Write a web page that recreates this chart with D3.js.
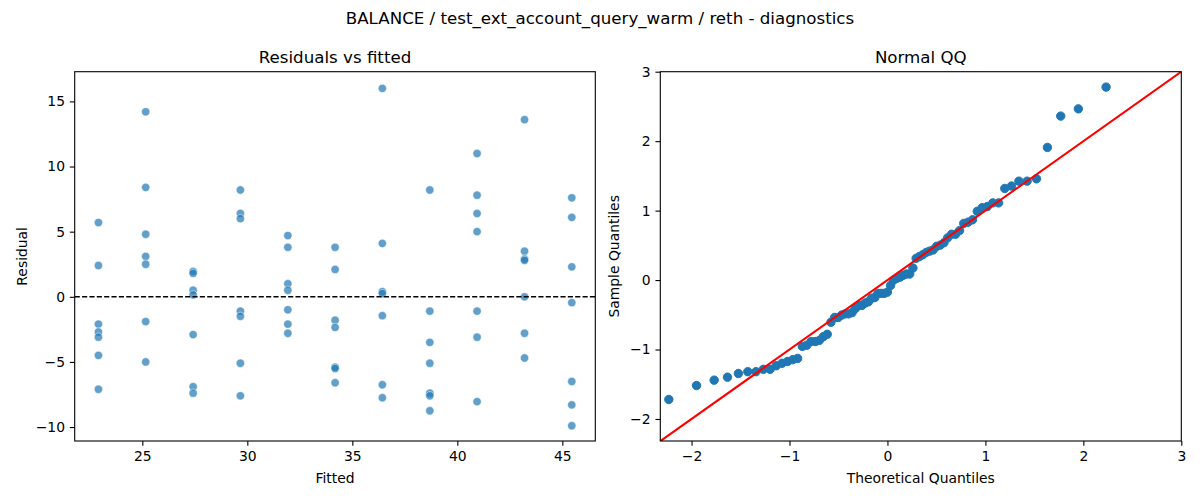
<!DOCTYPE html>
<html>
<head>
<meta charset="utf-8">
<script src="https://d3js.org/d3.v7.min.js"></script>
<style>
  body { margin: 0; background: #fff; }
  svg text { font-family: "DejaVu Sans", sans-serif; fill: #000; }
</style>
</head>
<body>
<div id="chart"></div>
<script>
// fitted value of each group and the residuals seen at that fitted value
var fitted = [22.91, 25.16, 27.42, 29.67, 31.93, 34.18, 36.43, 38.69, 40.94, 43.20, 45.45];
var residuals = [
  [5.7, 2.4, -2.1, -2.7, -3.1, -4.5, -7.1],
  [14.2, 8.4, 4.8, 3.1, 2.5, -1.9, -5.0],
  [1.95, 1.8, 0.5, 0.15, -2.9, -6.9, -7.4],
  [8.2, 6.4, 6.0, -1.1, -1.5, -5.1, -7.6],
  [4.7, 3.8, 1.0, 0.5, -1.0, -2.1, -2.8],
  [3.8, 2.1, -1.8, -2.35, -5.4, -5.5, -6.6],
  [16.0, 4.1, 0.4, 0.25, -1.45, -6.75, -7.75],
  [8.2, -1.1, -3.5, -5.1, -7.4, -7.6, -8.75],
  [11.0, 7.8, 6.4, 5.0, -1.1, -3.1, -8.05],
  [13.6, 3.5, 2.9, 2.8, 0.0, -2.8, -4.7],
  [7.6, 6.1, 2.3, -0.45, -6.5, -8.3, -9.9]
];
var fittedTicks = [25, 30, 35, 40, 45];
var residualTicks = [-10, -5, 0, 5, 10, 15];

// normal QQ points
var theoretical = [
  -2.232, -1.949, -1.769, -1.633, -1.522, -1.426, -1.342, -1.267, -1.198, -1.135,
  -1.076, -1.020, -0.967, -0.917, -0.869, -0.823, -0.779, -0.736, -0.695, -0.655,
  -0.615, -0.577, -0.539, -0.502, -0.466, -0.431, -0.396, -0.361, -0.327, -0.293,
  -0.260, -0.227, -0.194, -0.161, -0.129, -0.097, -0.064, -0.032, 0.000,
  0.032, 0.064, 0.097, 0.129, 0.161, 0.194, 0.227, 0.260, 0.293, 0.327,
  0.361, 0.396, 0.431, 0.466, 0.502, 0.539, 0.577, 0.615, 0.655, 0.695,
  0.736, 0.779, 0.823, 0.869, 0.917, 0.967, 1.020, 1.076, 1.135, 1.198,
  1.267, 1.342, 1.426, 1.522, 1.633, 1.769, 1.949, 2.232
];
var sample = [
  -1.719, -1.519, -1.441, -1.398, -1.345, -1.319, -1.319, -1.285, -1.285, -1.233,
  -1.198, -1.172, -1.146, -1.128, -0.955, -0.938, -0.885, -0.885, -0.868, -0.816,
  -0.781, -0.608, -0.538, -0.538, -0.503, -0.486, -0.486, -0.469, -0.408, -0.365,
  -0.365, -0.330, -0.313, -0.260, -0.252, -0.191, -0.191, -0.191, -0.174,
  -0.078, 0.000, 0.026, 0.043, 0.069, 0.087, 0.087, 0.174, 0.313, 0.339,
  0.365, 0.399, 0.417, 0.434, 0.486, 0.503, 0.538, 0.608, 0.660, 0.660,
  0.712, 0.816, 0.833, 0.868, 0.990, 1.042, 1.059, 1.111, 1.111, 1.319,
  1.354, 1.424, 1.424, 1.458, 1.910, 2.361, 2.465, 2.778
];
var qqTicks = [-2, -1, 0, 1, 2, 3];

var W = 1200, H = 500;
var plotTop = 71.7, plotBottom = 441;
var left1 = 74.7, right1 = 595.3;
var left2 = 660.3, right2 = 1181.3;
var tickFont = 13.9, titleFont = 16.67;
var C0 = "#1f77b4";

var svg = d3.select("#chart").append("svg")
  .attr("width", W)
  .attr("height", H);

// suptitle
svg.append("text")
  .attr("x", W / 2)
  .attr("y", 24)
  .attr("text-anchor", "middle")
  .style("font-size", titleFont + "px")
  .text("BALANCE / test_ext_account_query_warm / reth - diagnostics");

function styleAxis(g) {
  g.select(".domain").remove();
  g.selectAll(".tick line").attr("stroke", "#000").attr("stroke-width", 1.1);
  g.selectAll(".tick text")
    .attr("font-family", "DejaVu Sans, sans-serif")
    .style("font-size", tickFont + "px")
    .attr("fill", "#000");
}

function panel(x0, x1, title, xlabel, ylabel, ylabelX) {
  var cx = (x0 + x1) / 2;
  svg.append("text")
    .attr("x", cx).attr("y", plotTop - 8.3)
    .attr("text-anchor", "middle")
    .style("font-size", titleFont + "px")
    .text(title);
  svg.append("text")
    .attr("x", cx).attr("y", 483)
    .attr("text-anchor", "middle")
    .style("font-size", tickFont + "px")
    .text(xlabel);
  svg.append("text")
    .attr("transform", "translate(" + ylabelX + "," + ((plotTop + plotBottom) / 2) + ") rotate(-90)")
    .attr("text-anchor", "middle")
    .style("font-size", tickFont + "px")
    .text(ylabel);
}

var fmt = d3.format("d");

// ---------- Residuals vs fitted ----------
var x1 = d3.scaleLinear().domain([21.78, 46.57]).range([left1, right1]);
var y1 = d3.scaleLinear().domain([-11.07, 17.28]).range([plotBottom, plotTop]);

var points = [];
fitted.forEach(function(f, i) {
  residuals[i].forEach(function(r) { points.push({fitted: f, resid: r}); });
});

svg.append("g")
  .attr("transform", "translate(0," + plotBottom + ")")
  .call(d3.axisBottom(x1).tickValues(fittedTicks).tickSize(4.86).tickPadding(4.86).tickFormat(fmt))
  .call(styleAxis);
svg.append("g")
  .attr("transform", "translate(" + left1 + ",0)")
  .call(d3.axisLeft(y1).tickValues(residualTicks).tickSize(4.86).tickPadding(4.86).tickFormat(fmt))
  .call(styleAxis);

svg.append("g").selectAll("circle")
  .data(points)
  .enter().append("circle")
    .attr("cx", function(d) { return x1(d.fitted); })
    .attr("cy", function(d) { return y1(d.resid); })
    .attr("r", 4.17)
    .attr("fill", C0)
    .attr("fill-opacity", 0.7)
    .attr("stroke", "#fff")
    .attr("stroke-opacity", 0.7)
    .attr("stroke-width", 0.7);

svg.append("line")
  .attr("x1", left1).attr("x2", right1)
  .attr("y1", y1(0)).attr("y2", y1(0))
  .attr("stroke", "#000")
  .attr("stroke-width", 1.39)
  .attr("stroke-dasharray", "5.14,2.22");

svg.append("rect")
  .attr("x", left1).attr("y", plotTop)
  .attr("width", right1 - left1).attr("height", plotBottom - plotTop)
  .attr("fill", "none").attr("stroke", "#000").attr("stroke-width", 1.1);

panel(left1, right1, "Residuals vs fitted", "Fitted", "Residual", 27);

// ---------- Normal QQ ----------
var x2 = d3.scaleLinear().domain([-2.319, 3]).range([left2, right2]);
var y2 = d3.scaleLinear().domain([-2.317, 3]).range([plotBottom, plotTop]);

svg.append("defs").append("clipPath").attr("id", "qqclip")
  .append("rect")
    .attr("x", left2).attr("y", plotTop)
    .attr("width", right2 - left2).attr("height", plotBottom - plotTop);

svg.append("g")
  .attr("transform", "translate(0," + plotBottom + ")")
  .call(d3.axisBottom(x2).tickValues(qqTicks).tickSize(4.86).tickPadding(4.86).tickFormat(fmt))
  .call(styleAxis);
svg.append("g")
  .attr("transform", "translate(" + left2 + ",0)")
  .call(d3.axisLeft(y2).tickValues(qqTicks).tickSize(4.86).tickPadding(4.86).tickFormat(fmt))
  .call(styleAxis);

svg.append("g").selectAll("circle")
  .data(theoretical)
  .enter().append("circle")
    .attr("cx", function(d) { return x2(d); })
    .attr("cy", function(d, i) { return y2(sample[i]); })
    .attr("r", 4.2)
    .attr("fill", C0)
    .attr("stroke", C0)
    .attr("stroke-width", 1);

// 45 degree reference line across the axes limits
var ends = x2.domain();
svg.append("line")
  .attr("clip-path", "url(#qqclip)")
  .attr("x1", x2(ends[0])).attr("y1", y2(ends[0]))
  .attr("x2", x2(ends[1])).attr("y2", y2(ends[1]))
  .attr("stroke", "#ff0000")
  .attr("stroke-width", 2.08);

svg.append("rect")
  .attr("x", left2).attr("y", plotTop)
  .attr("width", right2 - left2).attr("height", plotBottom - plotTop)
  .attr("fill", "none").attr("stroke", "#000").attr("stroke-width", 1.1);

panel(left2, right2, "Normal QQ", "Theoretical Quantiles", "Sample Quantiles", 619);
</script>
</body>
</html>
